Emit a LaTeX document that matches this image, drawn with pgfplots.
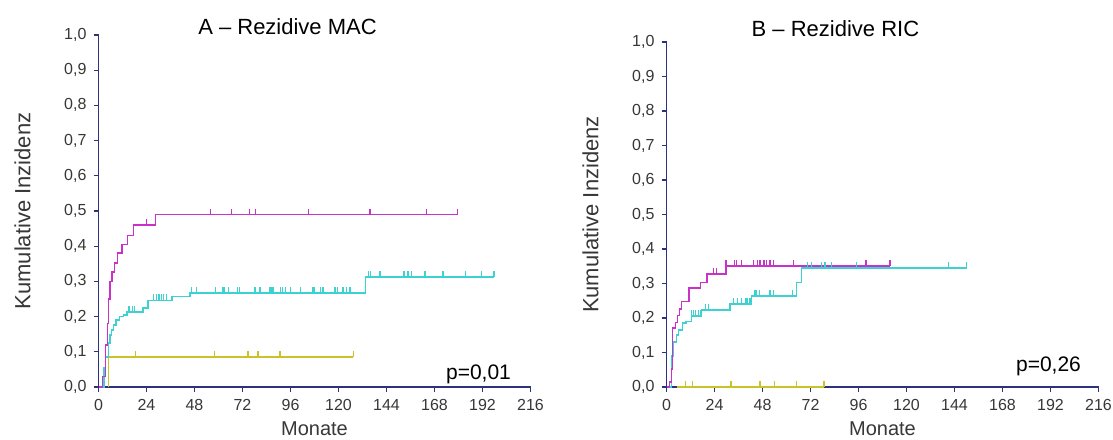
\documentclass[border=0pt]{standalone}
\usepackage{pgfplots}
\pgfplotsset{compat=1.18}
\usepackage{fontspec}
\setmainfont{Liberation Sans}
\definecolor{mag}{RGB}{200,50,200}
\definecolor{cya}{RGB}{60,210,210}
\definecolor{oli}{RGB}{200,195,40}
\definecolor{axc}{RGB}{45,50,125}
\definecolor{txt}{RGB}{55,55,55}
\pgfdeclareplotmark{cens}{\pgfpathmoveto{\pgfpointorigin}\pgfpathlineto{\pgfpoint{0pt}{3pt}}\pgfusepathqstroke}
\pgfplotsset{
  km/.style={
    scale only axis,
    width=216pt,
    xmin=0, xmax=216, ymin=0, ymax=1,
    xtick={0,24,...,216},
    ytick={0,0.1,...,1.0},
    axis x line=bottom, axis y line=left,
    axis line style={-, color=axc, line width=0.6pt},
    tick style={color=axc, line width=0.6pt},
    tick align=outside,
    major tick length=2.5pt,
    tick label style={font=\fontsize{8}{9.5}\selectfont, color=txt},
    yticklabel style={/pgf/number format/.cd, fixed, fixed zerofill, precision=1, use comma, assume math mode=true},
    xticklabel style={/pgf/number format/assume math mode=true},
    xlabel={Monate},
    ylabel={Kumulative Inzidenz},
    xlabel style={font=\fontsize{10}{12}\selectfont, color=txt, inner sep=0pt, anchor=base},
    ylabel style={font=\fontsize{11}{13}\selectfont, color=txt, at={(axis description cs:-0.176,0.5)}, anchor=center},
    title style={font=\fontsize{11}{13}\selectfont, anchor=base},
    every axis title shift=0pt,
    clip=false,
  },
  mline/.style={const plot, line width=0.85pt, mag},
  cline/.style={const plot, line width=0.85pt, cya},
  oline/.style={const plot, line width=0.85pt, oli},
  mcen/.style={only marks, mark=cens, mag, line width=0.6pt},
  ccen/.style={only marks, mark=cens, cya, line width=0.6pt},
  ocen/.style={only marks, mark=cens, oli, line width=0.6pt},
}
\begin{document}
\begin{tikzpicture}
\useasboundingbox (0,0) rectangle (556.5pt,219.5pt);
% ---------------- A ----------------
\begin{axis}[km, at={(49.25pt,26pt)}, anchor=south west, height=176pt,
  title={A -- Rezidive MAC}, title style={at={(axis description cs:0.4375,1.0)}},
  xlabel style={at={(axis description cs:0.5,-0.139)}}]
\addplot[oline] coordinates {(5,0) (5,0.085) (127.3,0.085)};
\addplot[ocen] coordinates {(18.5,0.085) (58,0.085) (74.7,0.085) (79.7,0.085) (90.7,0.085) (127.3,0.085)};
\addplot[cline] coordinates {
(0,0) (2.7,0.055) (3.5,0.085) (5,0.125) (5.8,0.148) (6.5,0.162) (7.5,0.176) (8.8,0.19)
(10.5,0.20) (12.5,0.205) (14.3,0.213) (22.3,0.225) (24.7,0.246) (36.8,0.257) (45.7,0.268)
(133.5,0.313) (197.7,0.313)};
\addplot[ccen] coordinates {
(15.2,0.213) (16.8,0.213) (18,0.213)
(27.5,0.246) (28.8,0.246) (30.2,0.246) (31.3,0.246) (32.5,0.246) (33.8,0.246)
(46.3,0.268) (49,0.268) (58.5,0.268) (62.2,0.268) (63,0.268) (64.8,0.268) (69.3,0.268) (70.5,0.268)
(78.2,0.268) (80.7,0.268) (85.5,0.268) (86.2,0.268) (87.2,0.268) (90.8,0.268) (91.8,0.268) (93.5,0.268)
(96,0.268) (101,0.268) (107.2,0.268) (108,0.268) (111,0.268) (112.2,0.268) (118.2,0.268) (119.3,0.268)
(122.2,0.268) (123.8,0.268) (125.7,0.268)
(134.8,0.313) (136,0.313) (140.7,0.313) (152.7,0.313) (154.7,0.313) (156.3,0.313) (163.2,0.313)
(172.2,0.313) (183.5,0.313) (191.3,0.313) (197.7,0.313)};
\addplot[mline] coordinates {
(0,0) (2,0.03) (3.5,0.12) (4.5,0.18) (5,0.25) (5.8,0.30) (6.8,0.327) (8,0.352) (9.5,0.38)
(11.8,0.405) (14.5,0.43) (17.5,0.46) (28.5,0.49) (179.3,0.49)};
\addplot[mcen] coordinates {
(24,0.46) (56,0.49) (66.3,0.49) (75.3,0.49) (78.3,0.49) (104.8,0.49) (135.7,0.49) (163.8,0.49) (179.3,0.49)};
\node[anchor=base, font=\fontsize{10.5}{12}\selectfont] at (axis cs:190,0.022) {p=0,01};
\end{axis}
% ---------------- B ----------------
\begin{axis}[km, at={(333.25pt,26pt)}, anchor=south west, height=172.5pt,
  title={B -- Rezidive RIC}, title style={at={(axis description cs:0.391,1.017)}},
  xlabel style={at={(axis description cs:0.5,-0.142)}}]
\addplot[oline] coordinates {(5,0) (78.7,0)};
\addplot[ocen] coordinates {(9.5,0) (12.8,0) (32.2,0) (46.7,0) (53.8,0) (65,0) (78.7,0)};
\addplot[cline] coordinates {
(0,0) (2.5,0.09) (3.5,0.13) (5,0.15) (6,0.165) (8,0.185) (9.7,0.19) (12.5,0.205) (17.5,0.223)
(31.7,0.24) (42.5,0.264) (65,0.303) (67.5,0.344) (150,0.344)};
\addplot[ccen] coordinates {
(12.5,0.205) (13.5,0.205) (14.5,0.205) (16,0.205) (17,0.205) (19.3,0.223) (21,0.223)
(33.3,0.24) (35.5,0.24) (37.5,0.24) (39.7,0.24) (40.3,0.24) (41.3,0.24) (42,0.24)
(44.2,0.264) (45,0.264) (46.3,0.264) (51.7,0.264) (53.3,0.264) (63,0.264)
(70.5,0.344) (72.5,0.344) (77.5,0.344) (79.2,0.344) (82.5,0.344) (95,0.344) (140.8,0.344) (150,0.344)};
\addplot[mline] coordinates {
(0,0) (1.5,0.014) (2.5,0.053) (3,0.171) (4.5,0.187) (5.5,0.207) (6.5,0.226) (7.5,0.248)
(11.3,0.287) (17,0.303) (20.3,0.327) (29.7,0.351) (111.7,0.351)};
\addplot[mcen] coordinates {
(23.3,0.327) (25,0.327) (29.7,0.351) (33.8,0.351) (35,0.351) (37.5,0.351) (43.3,0.351) (45.3,0.351)
(46.7,0.351) (48.7,0.351) (50,0.351) (51.7,0.351) (53.3,0.351) (63.5,0.351) (99.7,0.351) (111.7,0.351)};
\node[anchor=base, font=\fontsize{10.5}{12}\selectfont] at (axis cs:191,0.044) {p=0,26};
\end{axis}
\end{tikzpicture}
\end{document}
